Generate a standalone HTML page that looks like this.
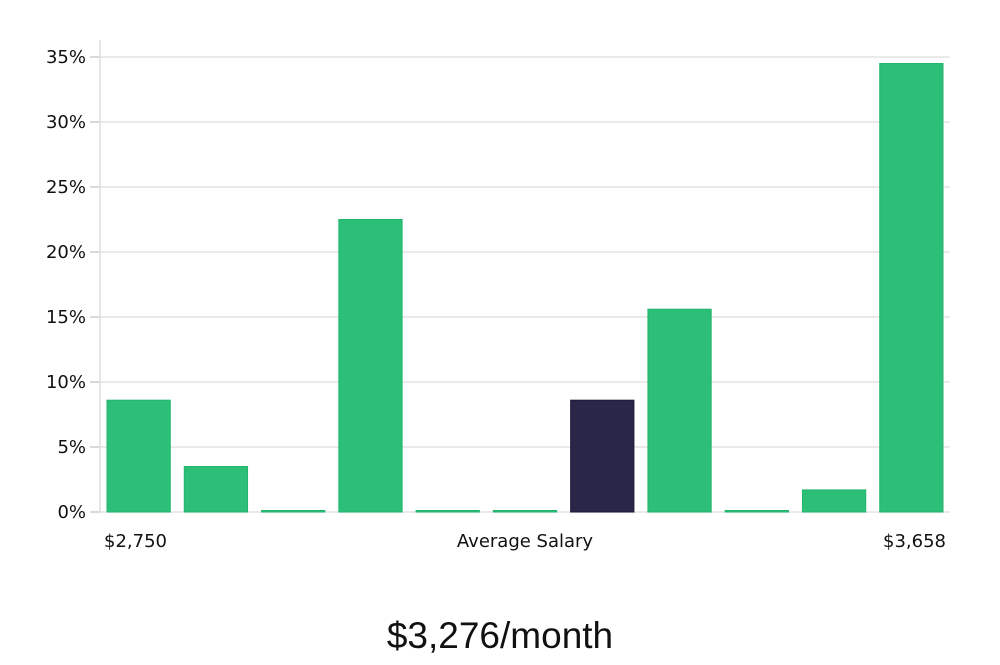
<!DOCTYPE html>
<html><head><meta charset="utf-8"><style>
body{margin:0;background:#fff;width:1000px;height:660px;overflow:hidden}
svg text{font-family:"DejaVu Sans","Liberation Sans",sans-serif}
</style></head><body>
<svg id="chart" width="1000" height="660" xmlns="http://www.w3.org/2000/svg">
<g id="grid"></g>
<g id="bars"></g>
<g id="yaxis"></g>
<text x="104" y="547" font-size="18" fill="#111">$2,750</text>
<text x="525" y="547" font-size="18" fill="#111" text-anchor="middle">Average Salary</text>
<text x="946" y="547" font-size="18" fill="#111" text-anchor="end">$3,658</text>
<text x="500" y="648" font-size="37" fill="#111" text-anchor="middle" style="font-family:'Liberation Sans',sans-serif;font-weight:300">$3,276/month</text>
</svg>
<script>
const categories=["b1","b2","b3","b4","b5","b6","b7","b8","b9","b10","b11"];
const values=[8.6,3.5,0,22.5,0,0,8.6,15.6,0,1.7,34.5];
const highlight=[false,false,false,false,false,false,true,false,false,false,false];
const yTicks=[0,5,10,15,20,25,30,35];
const yTickLabels=["0%","5%","10%","15%","20%","25%","30%","35%"];
const NS="http://www.w3.org/2000/svg";
const x0=100,x1=950,yBase=512,yTop=57,yMax=35;
function y(v){return yBase-(v/yMax)*(yBase-yTop);}
const band=(x1-x0)/categories.length;
function xb(i){return x0+i*band+7;}
const bw=band-14;
function mk(tag,attrs,parent){const e=document.createElementNS(NS,tag);for(const k in attrs)e.setAttribute(k,attrs[k]);parent.appendChild(e);return e;}
const grid=document.getElementById('grid'),ya=document.getElementById('yaxis'),bars=document.getElementById('bars');
yTicks.forEach((t,i)=>{
  const l=mk('line',{x1:x0,x2:x1,y1:y(t),y2:y(t),stroke:'#e3e3e3','stroke-width':1.5},grid);
  
  
  const tk=mk('line',{x1:x0-10,x2:x0,y1:y(t),y2:y(t),stroke:'#ccc','stroke-width':1.5},ya);
  
  
  const tx=mk('text',{x:x0-14,y:y(t)+6,'font-size':18,'text-anchor':'end',fill:'#111'},ya);
  tx.textContent=yTickLabels[i];
  
  
});
const ax=mk('line',{x1:x0,x2:x0,y1:40,y2:yBase,stroke:'#ddd','stroke-width':1.5},ya);


values.forEach((v,i)=>{
  const h=Math.max(1.5,yBase-y(v));
  const r=mk('rect',{x:xb(i),y:yBase-h,width:bw,height:h,fill:highlight[i]?'#2a2648':'#2bbf78',stroke:highlight[i]?'#1c1838':'#22b56d','stroke-width':1},bars);
  
  
});
</script>
</body></html>
